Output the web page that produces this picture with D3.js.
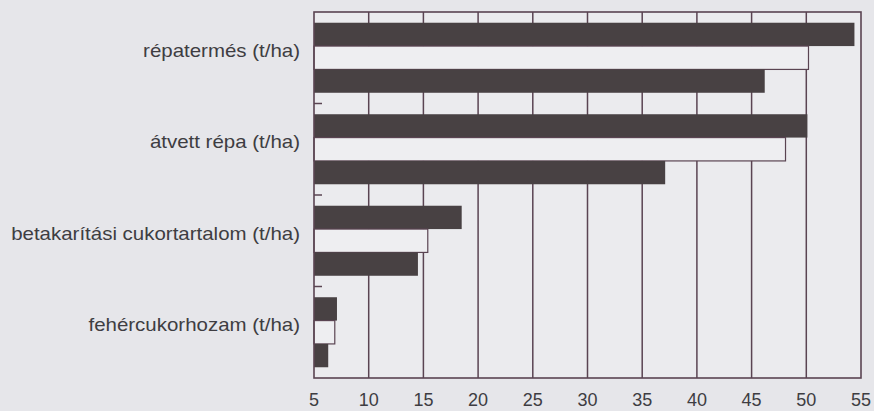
<!DOCTYPE html>
<html>
<head>
<meta charset="utf-8">
<script src="https://cdn.jsdelivr.net/npm/d3@7"></script>
<style>
  html, body { margin: 0; padding: 0; background: #e6e6ea; }
  svg { display: block; }
</style>
</head>
<body>
<svg id="chart" width="874" height="411"></svg>
<script>
const categories = [
  "répatermés (t/ha)",
  "átvett répa (t/ha)",
  "betakarítási cukortartalom (t/ha)",
  "fehércukorhozam (t/ha)"
];
const seriesNames = ["s1", "s2", "s3"];
const series1 = [54.4, 50.1, 18.5, 7.1];   // dark (top)
const series2 = [50.2, 48.1, 15.4, 6.9];   // white (middle)
const series3 = [46.2, 37.1, 14.5, 6.3];   // dark (bottom)
const xTicks = [5, 10, 15, 20, 25, 30, 35, 40, 45, 50, 55];

(function () {
const fills = { s1: "#484143", s2: "#eeeef1", s3: "#484143" };
const lineColor = "#5a4452";

const svg = d3.select("#chart");
const pLeft = 314, pRight = 861, pTop = 12, pBottom = 378;

const x = d3.scaleLinear().domain([5, 55]).range([pLeft, pRight]);
const y = d3.scaleBand().domain(categories).range([pTop, pBottom]).padding(0);
const yInner = d3.scaleBand().domain(seriesNames).range([0, y.bandwidth()])
  .paddingInner(0).paddingOuter(0.46);

// plot background
svg.append("rect").attr("x", pLeft).attr("y", pTop)
  .attr("width", pRight - pLeft).attr("height", pBottom - pTop)
  .attr("fill", "#ebebee");

// grid lines
svg.append("g").selectAll("line").data(xTicks.slice(1, -1)).join("line")
  .attr("x1", d => x(d)).attr("x2", d => x(d))
  .attr("y1", pTop).attr("y2", pBottom)
  .attr("stroke", lineColor).attr("stroke-width", 1.5);

// bars
const data = [];
categories.forEach((c, i) => {
  data.push({ cat: c, s: "s1", v: series1[i] });
  data.push({ cat: c, s: "s2", v: series2[i] });
  data.push({ cat: c, s: "s3", v: series3[i] });
});
svg.append("g").selectAll("rect").data(data).join("rect")
  .attr("x", x(5))
  .attr("y", d => y(d.cat) + yInner(d.s))
  .attr("width", d => x(d.v) - x(5))
  .attr("height", yInner.bandwidth())
  .attr("fill", d => fills[d.s])
  .attr("stroke", d => d.s === "s2" ? lineColor : "none")
  .attr("stroke-width", 1.2);

// frame
svg.append("rect").attr("x", pLeft).attr("y", pTop)
  .attr("width", pRight - pLeft).attr("height", pBottom - pTop)
  .attr("fill", "none").attr("stroke", lineColor).attr("stroke-width", 1.6);

// category tick marks (inward)
const bounds = categories.slice(1).map(c => y(c));
svg.append("g").selectAll("line").data(bounds).join("line")
  .attr("x1", pLeft).attr("x2", pLeft + 8)
  .attr("y1", d => d).attr("y2", d => d)
  .attr("stroke", lineColor).attr("stroke-width", 1.5);

// category labels
svg.append("g").selectAll("text").data(categories).join("text")
  .attr("transform", d => `translate(300,${y(d) + y.bandwidth() / 2 - 1}) scale(1.17,1)`)
  .attr("text-anchor", "end")
  .attr("font-family", "Liberation Sans, Arial, sans-serif")
  .attr("font-size", 17.5)
  .attr("fill", "#3e3d42")
  .text(d => d);

// x tick labels
svg.append("g").selectAll("text").data(xTicks).join("text")
  .attr("x", d => x(d)).attr("y", 406)
  .attr("text-anchor", "middle")
  .attr("font-family", "Liberation Sans, Arial, sans-serif")
  .attr("font-size", 18)
  .attr("fill", "#3e3d42")
  .text(d => d);
})();
</script>
</body>
</html>
